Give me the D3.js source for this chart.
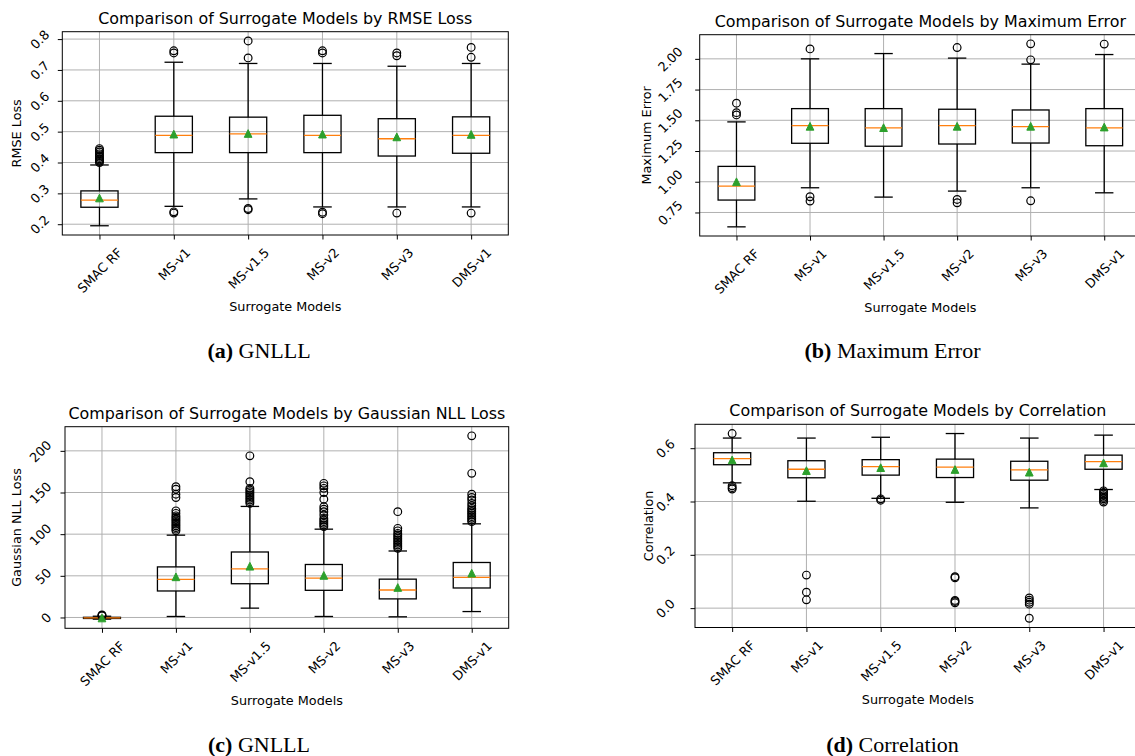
<!DOCTYPE html>
<html>
<head>
<meta charset="utf-8">
<script src="https://cdn.jsdelivr.net/npm/d3@7"></script>
<style>
  body { margin: 0; background: #fff; }
  svg text { font-family: "DejaVu Sans", sans-serif; fill: #000; }
</style>
</head>
<body>
<svg id="fig" width="1135" height="756"></svg>
<script>
// category names (same for all four panels)
var models = ["SMAC RF", "MS-v1", "MS-v1.5", "MS-v2", "MS-v3", "DMS-v1"];

// box stats per model: [lower whisker, q1, median, q3, upper whisker]
var rmseBoxes = [
  [0.195, 0.255, 0.278, 0.308, 0.392],
  [0.258, 0.432, 0.488, 0.550, 0.725],
  [0.282, 0.432, 0.493, 0.547, 0.721],
  [0.256, 0.432, 0.488, 0.553, 0.721],
  [0.256, 0.421, 0.477, 0.542, 0.712],
  [0.256, 0.430, 0.488, 0.548, 0.721]
];
var rmseMeans = [0.285, 0.492, 0.494, 0.492, 0.483, 0.491];
var rmseOutliers = [
  [0.400, 0.404, 0.408, 0.412, 0.417, 0.422, 0.428, 0.434, 0.440, 0.445],
  [0.236, 0.240, 0.755, 0.762],
  [0.247, 0.251, 0.739, 0.794],
  [0.234, 0.239, 0.755, 0.762],
  [0.236, 0.746, 0.755],
  [0.236, 0.741, 0.773]
];
var rmseTicks = [0.2, 0.3, 0.4, 0.5, 0.6, 0.7, 0.8];

var maxErrBoxes = [
  [0.633, 0.851, 0.965, 1.125, 1.487],
  [0.951, 1.313, 1.456, 1.595, 2.000],
  [0.875, 1.289, 1.438, 1.595, 2.043],
  [0.924, 1.307, 1.456, 1.590, 2.006],
  [0.951, 1.315, 1.448, 1.584, 1.957],
  [0.910, 1.293, 1.438, 1.595, 2.035]
];
var maxErrMeans = [1.000, 1.451, 1.440, 1.451, 1.451, 1.445];
var maxErrOutliers = [
  [1.544, 1.562, 1.639],
  [0.843, 0.878, 2.081],
  [],
  [0.829, 0.856, 2.092],
  [0.845, 1.992, 2.122],
  [2.120]
];
var maxErrTicks = [0.75, 1.00, 1.25, 1.50, 1.75, 2.00];

var nllBoxes = [
  [-2.0, -1.2, -0.6, 0.2, 1.5],
  [1.2, 31.8, 45.7, 60.7, 98.8],
  [11.2, 40.5, 58.3, 78.6, 133.3],
  [1.2, 32.6, 47.3, 63.6, 106.0],
  [0.8, 22.3, 33.0, 46.0, 79.8],
  [7.1, 35.4, 48.1, 66.0, 112.4]
];
var nllMeans = [-0.6, 48.8, 61.5, 50.5, 36.0, 53.2];
var nllOutliers = [
  [2.0, 2.5, 3.0],
  [104, 106, 108, 110, 112, 114, 116, 118, 120, 122, 125, 128, 144, 148, 154, 157],
  [137, 139, 141, 143, 145, 147, 149, 151, 153, 155, 163, 194],
  [109, 111, 113, 115, 117, 119, 123, 127, 130, 133, 142, 150, 155, 158, 161],
  [83, 85, 87, 89, 91, 93, 95, 97, 99, 101, 104, 107, 127],
  [115, 117, 119, 121, 123, 125, 127, 129, 131, 134, 137, 141, 144, 148, 173, 218]
];
var nllTicks = [0, 50, 100, 150, 200];

var corrBoxes = [
  [0.470, 0.538, 0.561, 0.583, 0.638],
  [0.401, 0.489, 0.521, 0.553, 0.638],
  [0.412, 0.499, 0.531, 0.557, 0.641],
  [0.397, 0.490, 0.529, 0.559, 0.655],
  [0.376, 0.480, 0.519, 0.551, 0.638],
  [0.445, 0.521, 0.550, 0.574, 0.649]
];
var corrMeans = [0.556, 0.516, 0.527, 0.520, 0.510, 0.545];
var corrOutliers = [
  [0.447, 0.452, 0.459, 0.655],
  [0.031, 0.060, 0.124],
  [0.405, 0.410],
  [0.020, 0.025, 0.029, 0.114, 0.118],
  [-0.038, 0.015, 0.022, 0.030, 0.038],
  [0.398, 0.404, 0.410, 0.416, 0.422, 0.428, 0.434, 0.440]
];
var corrTicks = [0.0, 0.2, 0.4, 0.6];

var FS = 12.8;      // tick / axis label size
var TITLE_FS = 15.9;
var svg = d3.select("#fig");

function drawPanel(p) {
  var g = svg.append("g");

  // matplotlib style autoscale: data range plus 5% margin
  var all = p.boxes.flat().concat(p.outliers.flat());
  var lo = d3.min(all), hi = d3.max(all), m = (hi - lo) * 0.05;
  var y = d3.scaleLinear().domain([lo - m, hi + m]).range([p.bottom, p.top]);
  var x = d3.scaleLinear().domain([0.5, models.length + 0.5]).range([p.left, p.right]);
  var pos = function(i) { return x(i + 1); };
  var half = (x(1.25) - x(1)); // box half width (box width 0.5)
  var capHalf = half / 2;

  // grid
  g.append("g").selectAll("line").data(p.ticks).join("line")
    .attr("x1", p.left).attr("x2", p.right)
    .attr("y1", d => y(d)).attr("y2", d => y(d))
    .attr("stroke", "#b0b0b0").attr("stroke-width", 1);
  g.append("g").selectAll("line").data(models).join("line")
    .attr("x1", (d, i) => pos(i)).attr("x2", (d, i) => pos(i))
    .attr("y1", p.top).attr("y2", p.bottom)
    .attr("stroke", "#b0b0b0").attr("stroke-width", 1);

  // boxes
  var bx = g.append("g").selectAll("g").data(p.boxes).join("g");
  // whiskers
  bx.append("line").attr("x1", (d, i) => pos(i)).attr("x2", (d, i) => pos(i))
    .attr("y1", d => y(d[0])).attr("y2", d => y(d[1]))
    .attr("stroke", "#000").attr("stroke-width", 1.3);
  bx.append("line").attr("x1", (d, i) => pos(i)).attr("x2", (d, i) => pos(i))
    .attr("y1", d => y(d[3])).attr("y2", d => y(d[4]))
    .attr("stroke", "#000").attr("stroke-width", 1.3);
  // caps
  [0, 4].forEach(function(k) {
    bx.append("line").attr("x1", (d, i) => pos(i) - capHalf).attr("x2", (d, i) => pos(i) + capHalf)
      .attr("y1", d => y(d[k])).attr("y2", d => y(d[k]))
      .attr("stroke", "#000").attr("stroke-width", 1.3);
  });
  // box
  bx.append("rect").attr("x", (d, i) => pos(i) - half).attr("width", half * 2)
    .attr("y", d => y(d[3])).attr("height", d => Math.max(y(d[1]) - y(d[3]), 0.5))
    .attr("fill", "none").attr("stroke", "#000").attr("stroke-width", 1.3);
  // median
  bx.append("line").attr("x1", (d, i) => pos(i) - half).attr("x2", (d, i) => pos(i) + half)
    .attr("y1", d => y(d[2])).attr("y2", d => y(d[2]))
    .attr("stroke", "#ff7f0e").attr("stroke-width", 1.3);

  // outliers
  var pts = [];
  p.outliers.forEach(function(arr, i) { arr.forEach(function(v) { pts.push([i, v]); }); });
  g.append("g").selectAll("circle").data(pts).join("circle")
    .attr("cx", d => pos(d[0])).attr("cy", d => y(d[1])).attr("r", 3.85)
    .attr("fill", "none").attr("stroke", "#000").attr("stroke-width", 1.2);

  // means (green triangles)
  var s = 3.85;
  g.append("g").selectAll("path").data(p.means).join("path")
    .attr("d", function(d, i) {
      var cx = pos(i), cy = y(d);
      return "M" + cx + "," + (cy - s) + "L" + (cx + s) + "," + (cy + s) + "L" + (cx - s) + "," + (cy + s) + "Z";
    })
    .attr("fill", "#2ca02c").attr("stroke", "#2ca02c").attr("stroke-width", 1);

  // y axis
  var ya = g.append("g").attr("transform", "translate(" + p.left + ",0)")
    .call(d3.axisLeft(y).tickValues(p.ticks).tickFormat(d3.format(p.fmt)).tickSize(4.5));
  ya.attr("font-family", null).attr("font-size", FS);
  ya.select(".domain").remove();
  ya.selectAll(".tick line").attr("stroke", "#000").attr("stroke-width", 1);
  ya.selectAll(".tick text")
    .attr("fill", "#000").attr("dy", null)
    .attr("text-anchor", "middle").attr("dominant-baseline", "central")
    .each(function() {
      var w = this.getComputedTextLength();
      var bw = (w + 0.73 * FS) / Math.SQRT2;
      var cx = -p.yGap - bw / 2;
      d3.select(this).attr("x", cx).attr("y", 0)
        .attr("transform", "rotate(-45," + cx + ",0)");
    });

  // x axis
  var xa = g.append("g").attr("transform", "translate(0," + p.bottom + ")")
    .call(d3.axisBottom(x).tickValues(d3.range(1, models.length + 1))
      .tickFormat(d => models[d - 1]).tickSize(4.5));
  xa.attr("font-family", null).attr("font-size", FS);
  xa.select(".domain").remove();
  xa.selectAll(".tick line").attr("stroke", "#000").attr("stroke-width", 1);
  xa.selectAll(".tick text")
    .attr("fill", "#000").attr("dy", null)
    .attr("text-anchor", "middle").attr("dominant-baseline", "central")
    .each(function() {
      var w = this.getComputedTextLength();
      var bh = (w + 0.73 * FS) / Math.SQRT2;
      var cy = 12 + bh / 2;
      d3.select(this).attr("x", 0).attr("y", cy)
        .attr("transform", "rotate(-45,0," + cy + ")");
    });

  // frame
  g.append("rect").attr("x", p.left).attr("y", p.top)
    .attr("width", p.right - p.left).attr("height", p.bottom - p.top)
    .attr("fill", "none").attr("stroke", "#000").attr("stroke-width", 1);

  // title and axis labels
  g.append("text").attr("x", (p.left + p.right) / 2).attr("y", p.top - 8)
    .attr("text-anchor", "middle").attr("font-size", TITLE_FS).text(p.title);
  g.append("text").attr("x", (p.left + p.right) / 2).attr("y", p.bottom + 71.7)
    .attr("text-anchor", "middle").attr("dominant-baseline", "central")
    .attr("font-size", FS).text("Surrogate Models");
  var ly = (p.top + p.bottom) / 2, lx = p.left - p.yLabelOff;
  g.append("text").attr("x", lx).attr("y", ly)
    .attr("text-anchor", "middle").attr("dominant-baseline", "central")
    .attr("transform", "rotate(-90," + lx + "," + ly + ")")
    .attr("font-size", FS).text(p.ylabel);

  // caption under the subfigure
  var cap = svg.append("text").attr("x", p.capX).attr("y", p.capY)
    .attr("text-anchor", "middle")
    .style("font-family", "'Liberation Serif', serif").attr("font-size", 22);
  cap.append("tspan").attr("font-weight", "bold").text(p.capTag);
  cap.append("tspan").text(" " + p.capText);
}

drawPanel({
  boxes: rmseBoxes, means: rmseMeans, outliers: rmseOutliers, ticks: rmseTicks, fmt: ".1f",
  left: 62.3, right: 508.3, top: 31.7, bottom: 235, yGap: 12, yLabelOff: 45.6,
  title: "Comparison of Surrogate Models by RMSE Loss", ylabel: "RMSE Loss",
  capX: 259, capY: 357.5, capTag: "(a)", capText: "GNLLL"
});
drawPanel({
  boxes: maxErrBoxes, means: maxErrMeans, outliers: maxErrOutliers, ticks: maxErrTicks, fmt: ".2f",
  left: 699.7, right: 1141, top: 34.7, bottom: 236, yGap: 16, yLabelOff: 53,
  title: "Comparison of Surrogate Models by Maximum Error", ylabel: "Maximum Error",
  capX: 892.5, capY: 357.5, capTag: "(b)", capText: "Maximum Error"
});
drawPanel({
  boxes: nllBoxes, means: nllMeans, outliers: nllOutliers, ticks: nllTicks, fmt: "d",
  left: 65, right: 508.7, top: 426.7, bottom: 628.3, yGap: 12.5, yLabelOff: 48.3,
  title: "Comparison of Surrogate Models by Gaussian NLL Loss", ylabel: "Gaussian NLL Loss",
  capX: 259, capY: 751.5, capTag: "(c)", capText: "GNLLL"
});
drawPanel({
  boxes: corrBoxes, means: corrMeans, outliers: corrOutliers, ticks: corrTicks, fmt: ".1f",
  left: 695, right: 1140.7, top: 424.3, bottom: 627.5, yGap: 19, yLabelOff: 46.7,
  title: "Comparison of Surrogate Models by Correlation", ylabel: "Correlation",
  capX: 892.5, capY: 751.5, capTag: "(d)", capText: "Correlation"
});
</script>
</body>
</html>
